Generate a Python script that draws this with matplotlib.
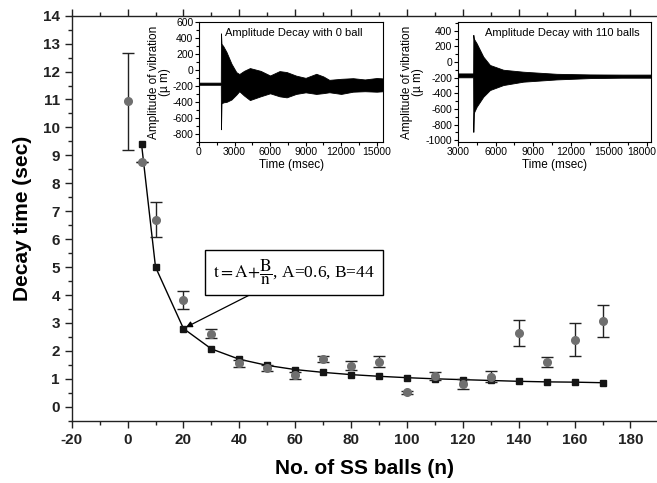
import matplotlib
matplotlib.use("Agg")
import matplotlib.pyplot as plt
import matplotlib.transforms as mtransforms
from matplotlib.ticker import MultipleLocator, AutoMinorLocator

# ---------------- data ----------------
n_fit = [5, 10, 20, 30, 40, 50, 60, 70, 80, 90, 100, 110, 120, 130, 140, 150, 160, 170]
t_fit = [9.4, 5.0, 2.8, 2.07, 1.7, 1.48, 1.33, 1.23, 1.15, 1.09, 1.04, 1.0, 0.97, 0.94, 0.91, 0.89, 0.88, 0.86]

n_exp = [0, 5, 10, 20, 30, 40, 50, 60, 70, 80, 90, 100, 110, 120, 130, 140, 150, 160, 170]
t_exp = [10.93, 8.78, 6.69, 3.82, 2.61, 1.55, 1.39, 1.12, 1.71, 1.46, 1.61, 0.52, 1.10, 0.80, 1.08, 2.63, 1.61, 2.40, 3.06]
t_err = [1.73, 0.0, 0.63, 0.33, 0.16, 0.12, 0.12, 0.12, 0.12, 0.16, 0.2, 0.05, 0.14, 0.18, 0.2, 0.47, 0.18, 0.6, 0.57]

# inset 1 (0 ball): envelope of the vibration signal
t1 = [0, 1840, 1857, 1900, 2050, 2320, 2740, 3150, 3400, 3800, 4300, 5200, 6000, 6800, 7400, 8200, 9000, 9900, 10500, 11000, 12000, 13000, 14000, 15000, 15560]
up1 = [-158, -158, 461, 330, 300, 227, 80, -26, -50, -10, 25, -10, -68, -13, -25, -70, -98, -47, -80, -123, -110, -102, -118, -100, -105]
lo1 = [-185, -185, -744, -420, -406, -400, -370, -309, -266, -320, -377, -330, -292, -330, -343, -300, -280, -300, -290, -279, -300, -272, -266, -272, -266]

# inset 2 (110 balls)
t2 = [3000, 4225, 4240, 4280, 4500, 5030, 5560, 6620, 8200, 10850, 13500, 16000, 18340]
up2 = [-145, -145, 349, 300, 242, 70, -37, -98, -123, -150, -158, -160, -160]
lo2 = [-195, -195, -894, -650, -573, -444, -358, -294, -251, -222, -205, -200, -200]

inset1_xticks = [0, 3000, 6000, 9000, 12000, 15000]
inset1_yticks = [-800, -600, -400, -200, 0, 200, 400, 600]
inset2_xticks = [3000, 6000, 9000, 12000, 15000, 18000]
inset2_yticks = [-1000, -800, -600, -400, -200, 0, 200, 400]

# ---------------- figure ----------------
W, H = 657, 483
fig = plt.figure(figsize=(W / 100, H / 100), dpi=100)
plt.rcParams['font.family'] = ['Liberation Sans', 'DejaVu Sans']
plt.rcParams['mathtext.fontset'] = 'stix'
plt.rcParams['axes.unicode_minus'] = False

def px(l, t, r, b):
    return [l / W, 1 - b / H, (r - l) / W, (b - t) / H]

ax = fig.add_axes(px(71.7, 15.7, 657, 420.7))
ax.set_xlim(-20, 189.5)
ax.set_ylim(-0.5, 14)
ax.plot(n_fit, t_fit, color='black', lw=1.0, marker='s', ms=5, mfc='#151515', mec='#151515', zorder=3)
ax.errorbar(n_exp, t_exp, yerr=t_err, fmt='o', color='#6f6f6f', ms=5.5, ecolor='#222222',
            elinewidth=1.0, capsize=4, capthick=1.0, zorder=4)

ax.xaxis.set_major_locator(MultipleLocator(20))
ax.xaxis.set_minor_locator(MultipleLocator(10))
ax.yaxis.set_major_locator(MultipleLocator(1))
ax.yaxis.set_minor_locator(MultipleLocator(0.5))
ax.tick_params(which='both', direction='out', width=1.0, colors='#222222')
ax.tick_params(which='major', length=5)
ax.tick_params(which='minor', length=3)
ax.tick_params(axis='x', which='both', top=True, labeltop=False)
for s in ['left', 'bottom', 'top']:
    ax.spines[s].set_linewidth(1.0)
    ax.spines[s].set_color('#222222')
ax.spines['right'].set_visible(False)
for lab in ax.get_xticklabels() + ax.get_yticklabels():
    lab.set_fontweight('bold')
    lab.set_fontsize(11)
ax.set_xlabel('No. of SS balls (n)', fontsize=15, fontweight='bold', labelpad=9)
ax.set_ylabel('Decay time (sec)', fontsize=15, fontweight='bold', labelpad=8)

ax.annotate(r'$\mathrm{t{=}A{+}\dfrac{B}{n}}$, A=0.6, B=44', xy=(20, 2.8), xytext=(59.6, 4.81),
            ha='center', va='center', fontsize=12.5, family='Liberation Serif',
            bbox=dict(boxstyle='square,pad=0.45', fc='white', ec='black', lw=1.0),
            arrowprops=dict(arrowstyle='-|>', color='black', lw=0.9, mutation_scale=9,
                            shrinkA=0, shrinkB=2), zorder=6)

def make_inset(rect, t, up, lo, xlim, ylim, xticks, yticks, title):
    a = fig.add_axes(rect)
    a.set_facecolor('white')
    a.fill_between(t, lo, up, color='black', lw=0.6, edgecolor='black')
    a.set_xlim(*xlim)
    a.set_ylim(*ylim)
    a.set_xticks(xticks)
    a.set_yticks(yticks)
    a.xaxis.set_minor_locator(AutoMinorLocator(2))
    a.yaxis.set_minor_locator(AutoMinorLocator(2))
    a.tick_params(which='both', direction='out', labelsize=7.5, pad=1, width=0.8)
    a.tick_params(which='major', length=3)
    a.tick_params(which='minor', length=2)
    for s in a.spines.values():
        s.set_linewidth(0.8)
    a.set_xlabel('Time (msec)', fontsize=8.5, labelpad=1)
    a.set_ylabel('Amplitude of vibration\n(\u00b5 m)', fontsize=8.5, labelpad=1, linespacing=0.95)
    a.text(0.14, 0.91, title, transform=a.transAxes, fontsize=8, va='center', ha='left')
    return a

make_inset(px(199, 22.3, 383.3, 141.7), t1, up1, lo1, (0, 15560), (-900, 600),
           inset1_xticks, inset1_yticks, 'Amplitude Decay with 0 ball')
a2 = make_inset(px(457.7, 22.3, 651, 141.7), t2, up2, lo2, (3000, 18340), (-1020, 510),
                inset2_xticks, inset2_yticks, 'Amplitude Decay with 110 balls')
# keep the last inset tick label inside the figure
last = a2.get_xticklabels()[-1]
last.set_transform(last.get_transform() +
                   mtransforms.ScaledTranslation(-5 / 100, 0, fig.dpi_scale_trans))

fig.savefig('out.png', dpi=100)
